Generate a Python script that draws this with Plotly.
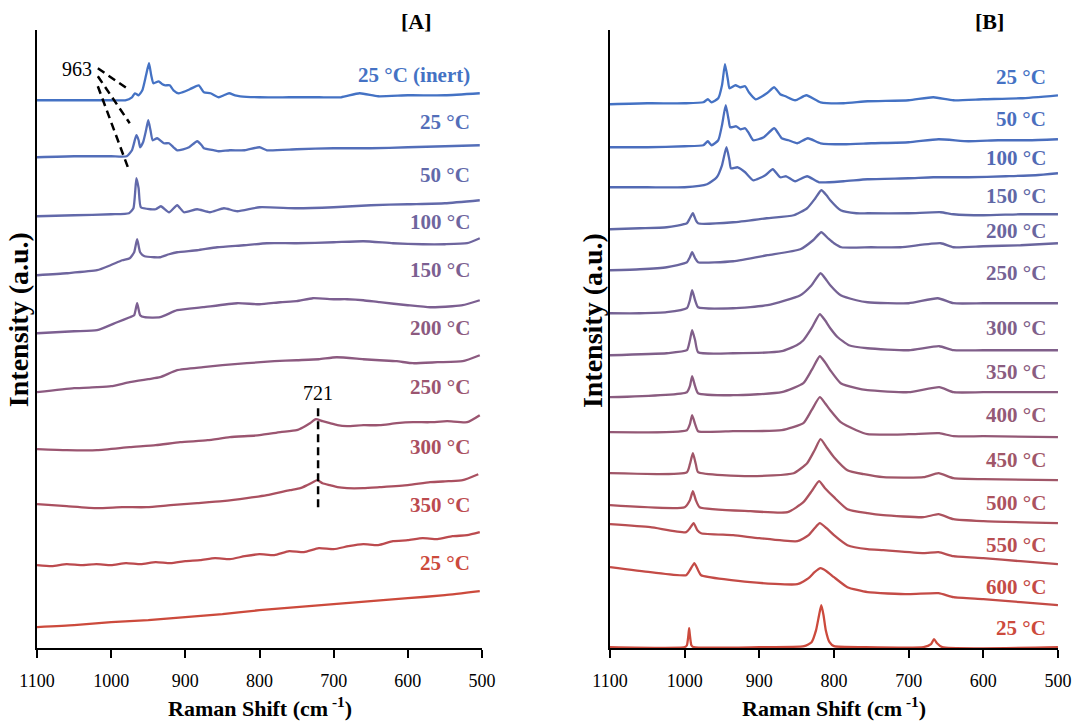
import plotly.graph_objects as go

FONT = "Liberation Serif, Times New Roman, serif"

# ---------------- Panel A data (Raman shift cm-1, stacked intensity a.u.) ----------------
a_labels = ["25 °C (inert)", "25 °C", "50 °C", "100 °C", "150 °C",
            "200 °C", "250 °C", "300 °C", "350 °C", "25 °C"]

a01_x = [1100, 1050, 1000, 981, 972, 968, 963, 958, 953, 949, 946, 943, 936, 931, 927,
         921, 916, 909, 900, 894, 882, 875, 866, 855, 848, 841, 833, 826, 800, 760, 720, 690,
         665, 640, 600, 550, 503]
a01_i = [550, 550, 550, 550, 553, 557, 555, 560, 575, 587, 575, 567, 569, 566, 565,
         565, 560, 557, 559, 561, 565, 558, 557, 553, 555, 557, 555, 554, 553, 553, 553, 553,
         557, 554, 555, 555, 557]

a02_x = [1100, 1050, 1000, 979, 972, 966, 963, 961, 957, 953, 950, 947, 944, 938, 929,
         922, 916, 911, 903, 895, 884, 878, 875, 861, 855, 840, 820, 800, 790, 750, 700, 650, 600,
         550, 503]
a02_i = [493, 494, 494, 494, 500, 515, 510, 503, 508, 520, 530, 520, 510, 512, 507,
         507, 503, 500, 501, 503, 509, 505, 502, 500, 499, 500, 500, 503, 500, 501, 502, 502, 503,
         504, 505]

a03_x = [1100, 1050, 1000, 976, 970, 966, 963, 960, 947, 940, 933, 922, 911, 902, 884,
         867, 848, 830, 800, 750, 700, 650, 600, 550, 503]
a03_i = [434, 435, 436, 437, 442, 472, 462, 443, 441, 441, 444, 438, 445, 438, 441,
         438, 442, 439, 443, 442, 443, 445, 446, 447, 450]

a04_x = [1100, 1060, 1019, 1001, 985, 975, 969, 965, 961, 955, 942, 934, 922, 911, 884,
         857, 821, 790, 750, 700, 660, 620, 580, 550, 520, 503]
a04_i = [375, 377, 380, 385, 390, 392, 398, 411, 398, 394, 393, 393, 396, 398, 400,
         403, 405, 407, 407, 408, 409, 407, 406, 406, 407, 412]

a05_x = [1100, 1050, 1019, 992, 975, 969, 965, 961, 955, 934, 911, 876, 830, 800, 772, 750,
         728, 700, 682, 660, 638, 600, 570, 540, 526, 503]
a05_i = [317, 319, 320, 328, 333, 335, 347, 335, 333, 333, 340, 343, 347, 346, 348, 349,
         352, 351, 351, 350, 348, 345, 343, 344, 345, 350]

a06_x = [1100, 1050, 1019, 1000, 975, 950, 934, 911, 876, 850, 817, 780, 750, 720, 696, 660,
         638, 615, 593, 560, 526, 503]
a06_i = [258, 262, 263, 264, 268, 271, 273, 280, 283, 285, 287, 289, 290, 291, 293, 291,
         290, 289, 287, 288, 289, 295]

a07_x = [1100, 1060, 1019, 975, 940, 907, 870, 840, 800, 772, 750, 741, 732, 724, 715, 705, 695,
         682, 660, 638, 615, 593, 570, 547, 520, 503]
a07_i = [201, 200, 200, 203, 205, 208, 210, 213, 215, 218, 220, 223, 227, 231, 229, 227, 225,
         224, 225, 225, 227, 228, 228, 229, 228, 235]

a08_x = [1100, 1060, 1019, 985, 952, 920, 884, 850, 817, 790, 759, 745, 736, 728, 722, 715, 705,
         695, 682, 660, 638, 600, 570, 545, 526, 505]
a08_i = [146, 144, 142, 143, 143, 145, 147, 149, 152, 155, 160, 162, 165, 168, 170, 167, 165,
         163, 162, 162, 163, 165, 168, 169, 170, 176]

a09_x = [1100, 1080, 1060, 1040, 1020, 1000, 980, 960, 940, 920, 900, 880, 860, 840, 820, 800, 780,
         760, 740, 720, 700, 680, 660, 640, 620, 600, 580, 560, 540, 520, 503]
a09_i = [85, 84, 86, 85, 86, 85, 87, 86, 88, 87, 89, 90, 92, 91, 94, 96, 95,
         99, 98, 102, 101, 104, 106, 105, 109, 110, 112, 111, 114, 115, 118]

a10_x = [1100, 1050, 1000, 950, 900, 850, 800, 750, 700, 650, 600, 550, 503]
a10_i = [23, 25, 28, 30, 33, 36, 40, 43, 46, 49, 52, 55, 59]

a_colors = ["rgb(68,114,196)", "rgb(83,110,185)", "rgb(98,105,170)", "rgb(110,101,158)",
            "rgb(124,95,145)", "rgb(140,90,128)", "rgb(155,85,112)", "rgb(170,80,96)",
            "rgb(188,74,78)", "rgb(204,74,60)"]
a_label_y = [575, 528, 475, 428, 380, 322, 263, 203, 145, 87]

# ---------------- Panel B data ----------------
b_labels = ["25 °C", "50 °C", "100 °C", "150 °C", "200 °C", "250 °C", "300 °C",
            "350 °C", "400 °C", "450 °C", "500 °C", "550 °C", "600 °C", "25 °C"]

b01_x = [1100, 1050, 1000, 975, 969, 964, 955, 950, 946, 942, 940, 932, 926, 919, 914, 905, 890,
         880, 872, 865, 852, 837, 818, 787, 755, 700, 667, 640, 600, 550, 500]
b01_i = [546, 547, 547, 548, 551, 548, 552, 565, 586, 570, 562, 565, 563, 564, 558, 551, 557,
         563, 556, 554, 550, 555, 548, 547, 549, 550, 553, 550, 551, 552, 555]

b02_x = [1100, 1050, 1000, 975, 969, 964, 955, 950, 945, 941, 939, 931, 925, 919, 914, 908, 894,
         880, 870, 861, 849, 835, 818, 787, 750, 700, 660, 620, 580, 540, 500]
b02_i = [503, 503, 504, 505, 509, 505, 510, 525, 545, 530, 523, 524, 521, 522, 517, 510, 513,
         522, 512, 510, 507, 512, 507, 506, 507, 508, 511, 509, 510, 510, 511]

b03_x = [1100, 1050, 1000, 970, 957, 950, 944, 940, 938, 929, 919, 908, 892, 882, 872, 864, 852,
         836, 820, 787, 755, 700, 667, 620, 570, 530, 500]
b03_i = [463, 463, 463, 466, 473, 485, 503, 490, 482, 483, 478, 470, 475, 481, 473, 474, 469,
         474, 468, 469, 471, 472, 473, 473, 474, 475, 477]

b04_x = [1100, 1060, 1024, 997, 993, 989, 985, 982, 935, 890, 854, 836, 825, 817, 810, 805, 791,
         770, 755, 700, 657, 640, 600, 550, 500]
b04_i = [421, 422, 423, 427, 432, 437, 430, 427, 428, 432, 435, 442, 452, 460, 455, 450, 440,
         437, 437, 437, 438, 436, 435, 436, 436]

b05_x = [1100, 1060, 1024, 997, 993, 990, 986, 982, 935, 889, 845, 828, 817, 808, 800, 790, 750,
         711, 657, 640, 600, 550, 500]
b05_i = [380, 381, 383, 388, 393, 398, 392, 388, 389, 395, 401, 410, 418, 412, 407, 403, 403,
         403, 407, 403, 404, 405, 407]

b06_x = [1100, 1060, 1024, 997, 993, 990, 986, 982, 935, 889, 845, 830, 818, 810, 805, 791, 770,
         755, 700, 661, 640, 600, 550, 500]
b06_i = [337, 337, 338, 342, 350, 360, 350, 343, 342, 345, 355, 365, 377, 370, 365, 355, 350,
         348, 347, 352, 347, 347, 347, 347]

b07_x = [1100, 1024, 997, 993, 990, 986, 982, 935, 870, 850, 841, 830, 819, 812, 805, 795, 780,
         755, 700, 659, 640, 600, 500]
b07_i = [295, 297, 300, 310, 320, 310, 298, 297, 299, 305, 310, 322, 336, 330, 322, 313, 305,
         302, 300, 304, 300, 300, 300]

b08_x = [1100, 997, 993, 990, 986, 982, 935, 870, 841, 830, 819, 812, 805, 791, 770, 755, 700,
         659, 640, 600, 500]
b08_i = [253, 258, 264, 274, 264, 257, 255, 258, 267, 280, 294, 288, 280, 267, 262, 260, 258,
         263, 258, 258, 258]

b09_x = [1100, 997, 993, 990, 986, 982, 935, 870, 841, 830, 819, 812, 805, 791, 770, 755, 700,
         659, 640, 600, 500]
b09_i = [218, 220, 226, 235, 226, 219, 219, 220, 227, 240, 253, 247, 240, 228, 220, 216, 216,
         217, 214, 214, 213]

b10_x = [1100, 997, 993, 989, 985, 982, 912, 854, 836, 826, 818, 810, 800, 782, 760, 734, 680,
         660, 640, 600, 500]
b10_i = [177, 178, 186, 197, 186, 178, 174, 177, 187, 200, 211, 203, 193, 180, 176, 173, 173,
         177, 172, 171, 170]

b11_x = [1100, 1000, 993, 989, 985, 980, 912, 862, 841, 829, 820, 812, 800, 782, 755, 734, 680,
         660, 640, 600, 500]
b11_i = [145, 143, 150, 159, 150, 143, 139, 138, 148, 160, 169, 162, 153, 141, 137, 135, 133,
         136, 131, 129, 127]

b12_x = [1100, 1046, 998, 993, 988, 983, 978, 935, 900, 849, 834, 826, 819, 810, 800, 782, 755,
         734, 680, 660, 640, 600, 550, 500]
b12_i = [126, 123, 118, 122, 127, 120, 117, 115, 112, 109, 115, 122, 127, 122, 115, 105, 101,
         100, 97, 98, 94, 92, 89, 86]

b13_x = [1100, 1046, 998, 993, 987, 982, 978, 912, 849, 834, 826, 818, 810, 800, 782, 755, 700,
         660, 640, 600, 550, 500]
b13_i = [83, 78, 75, 80, 87, 80, 75, 68, 66, 72, 78, 82, 79, 73, 63, 58, 56,
         57, 53, 51, 48, 45]

b14_x = [1100, 1000, 997, 995, 994, 993, 991, 988, 900, 840, 830, 824, 820, 817, 814, 811, 806,
         800, 760, 680, 670, 666, 662, 655, 500]
b14_i = [3, 3, 5, 15, 22, 15, 5, 3, 3, 4, 8, 20, 35, 45, 35, 20, 8,
         4, 3, 3, 6, 11, 7, 3, 3]

b_colors = ["rgb(68,114,196)", "rgb(74,110,190)", "rgb(82,106,180)", "rgb(96,104,166)",
            "rgb(106,101,158)", "rgb(117,98,148)", "rgb(128,95,138)", "rgb(138,92,128)",
            "rgb(148,89,118)", "rgb(160,86,104)", "rgb(172,82,94)", "rgb(184,78,82)",
            "rgb(196,75,70)", "rgb(204,74,60)"]
b_label_y = [573, 531, 492, 454, 419, 377, 322, 278, 235, 190, 147, 105, 63, 22]

tick_vals = [1100, 1000, 900, 800, 700, 600, 500]
tick_text = ["1100", "1000", "900", "800", "700", "600", "500"]

# ---------------- Build figure ----------------
a_series = [(a01_x, a01_i), (a02_x, a02_i), (a03_x, a03_i), (a04_x, a04_i), (a05_x, a05_i),
            (a06_x, a06_i), (a07_x, a07_i), (a08_x, a08_i), (a09_x, a09_i), (a10_x, a10_i)]
b_series = [(b01_x, b01_i), (b02_x, b02_i), (b03_x, b03_i), (b04_x, b04_i), (b05_x, b05_i),
            (b06_x, b06_i), (b07_x, b07_i), (b08_x, b08_i), (b09_x, b09_i), (b10_x, b10_i),
            (b11_x, b11_i), (b12_x, b12_i), (b13_x, b13_i), (b14_x, b14_i)]

fig = go.Figure()
annotations = []
LINE_W = 2.3

for (xs, ys), col, lab, ly in zip(a_series, a_colors, a_labels, a_label_y):
    fig.add_trace(go.Scatter(x=xs, y=ys, mode="lines",
                             line=dict(color=col, width=LINE_W, shape="spline", smoothing=0.5),
                             xaxis="x", yaxis="y", name=lab, showlegend=False, hoverinfo="skip"))
    annotations.append(dict(xref="x domain", yref="y", x=0.978, y=ly, text=f"<b>{lab}</b>",
                            showarrow=False, xanchor="right", yanchor="middle",
                            font=dict(family=FONT, size=21, color=col)))

for (xs, ys), col, lab, ly in zip(b_series, b_colors, b_labels, b_label_y):
    fig.add_trace(go.Scatter(x=xs, y=ys, mode="lines",
                             line=dict(color=col, width=LINE_W, shape="spline", smoothing=0.5),
                             xaxis="x2", yaxis="y2", name=lab, showlegend=False, hoverinfo="skip"))
    annotations.append(dict(xref="x2 domain", yref="y2", x=0.978, y=ly, text=f"<b>{lab}</b>",
                            showarrow=False, xanchor="right", yanchor="middle",
                            font=dict(family=FONT, size=21, color=col)))

# Peak markers (panel A)
peak_963 = 963
peak_721 = 721
shapes = []
for (x0, y0, x1, y1) in [(1018, 582, 975, 560), (1018, 574, 975, 527), (1018, 564, 977, 482)]:
    shapes.append(dict(type="line", xref="x", yref="y", x0=x0, y0=y0, x1=x1, y1=y1,
                       line=dict(color="black", width=2.5, dash="8px,5px")))
shapes.append(dict(type="line", xref="x", yref="y", x0=peak_721, y0=242, x1=peak_721, y1=143,
                   line=dict(color="black", width=2.5, dash="8px,5px")))
annotations.append(dict(xref="x", yref="y", x=1046, y=581, text=str(peak_963), showarrow=False,
                        font=dict(family=FONT, size=20, color="black")))
annotations.append(dict(xref="x", yref="y", x=peak_721, y=257, text=str(peak_721), showarrow=False,
                        font=dict(family=FONT, size=20, color="black")))

# Panel titles and axis titles
for px, txt in [(0.3877, "[A]"), (0.9226, "[B]")]:
    annotations.append(dict(xref="paper", yref="paper", x=px, y=0.9695, text=f"<b>{txt}</b>",
                            showarrow=False, xanchor="center", yanchor="middle",
                            font=dict(family=FONT, size=22, color="black")))
for px in [0.2419, 0.7773]:
    annotations.append(dict(xref="paper", yref="paper", x=px, y=0.019,
                            text="<b>Raman Shift (cm<sup> -1</sup>)</b>", showarrow=False,
                            xanchor="center", yanchor="middle",
                            font=dict(family=FONT, size=22, color="black")))
for px in [0.0168, 0.5517]:
    annotations.append(dict(xref="paper", yref="paper", x=px, y=0.556,
                            text="<b>Intensity (a.u.)</b>", showarrow=False, textangle=-90,
                            xanchor="center", yanchor="middle",
                            font=dict(family=FONT, size=28, color="black")))

xcommon = dict(range=[1100, 500], tickvals=tick_vals, ticktext=tick_text, ticks="outside",
               ticklen=8, tickwidth=1.5, tickcolor="black", showline=True, linewidth=2,
               linecolor="black", showgrid=False, zeroline=False, ticklabelstandoff=7,
               automargin=False, tickfont=dict(family=FONT, size=18, color="black"))
ycommon = dict(range=[2, 620], showticklabels=False, ticks="", showline=True, linewidth=2,
               linecolor="black", showgrid=False, zeroline=False, domain=[0.101, 0.958],
               automargin=False)

fig.update_layout(
    template="none",
    width=1073, height=721,
    margin=dict(l=0, r=0, t=0, b=0, pad=0, autoexpand=False),
    paper_bgcolor="white", plot_bgcolor="white",
    xaxis=dict(domain=[0.0345, 0.4492], anchor="y", **xcommon),
    yaxis=dict(anchor="x", **ycommon),
    xaxis2=dict(domain=[0.5685, 0.986], anchor="y2", **xcommon),
    yaxis2=dict(anchor="x2", **ycommon),
    annotations=annotations,
    shapes=shapes,
    showlegend=False,
)

fig.write_html("out.html")
